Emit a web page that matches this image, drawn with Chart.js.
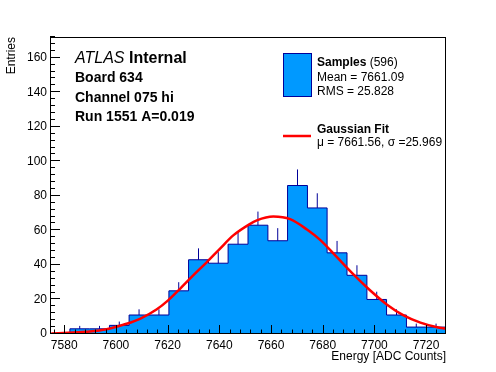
<!DOCTYPE html>
<html>
<head>
<meta charset="utf-8">
<script src="https://cdn.jsdelivr.net/npm/chart.js@4.4.1/dist/chart.umd.min.js"></script>
<style>
  html, body { margin: 0; padding: 0; background: #fff; }
</style>
</head>
<body>
<canvas id="chart" width="496" height="372"></canvas>
<script>
// Histogram data
const binEdges = [7574.5, 7582.2, 7589.8, 7597.5, 7605.1, 7612.8, 7620.5, 7628.1, 7635.8, 7643.4,
                  7651.1, 7658.8, 7666.4, 7674.1, 7681.7, 7689.4, 7697.1, 7704.7, 7712.4, 7720.0, 7727.7];
const counts = [0, 3, 3, 5, 11, 11, 25, 43, 41, 52, 63, 54, 86, 73, 47, 34, 20, 11, 4, 4];
const errors = [0, 1.7, 1.7, 2.2, 3.3, 3.3, 5, 6.6, 6.4, 7.2, 7.9, 7.3, 9.3, 8.5, 6.9, 5.8, 4.5, 3.3, 2, 2];

// Gaussian fit curve
const fitX = [7575.0, 7583.4, 7589.9, 7596.4, 7604.1, 7609.3, 7615.7, 7620.2, 7624.7, 7629.9, 7635.1,
              7640.3, 7645.4, 7651.6, 7654.5, 7660.9, 7667.4, 7673.9, 7679.0, 7685.5, 7691.9, 7698.4,
              7704.9, 7711.3, 7717.8, 7724.3, 7727.7];
const fitY = [0.3, 0.9, 1.4, 2.7, 5.9, 8.8, 14.2, 19.5, 26.0, 33.9, 41.5,
              49.5, 57.1, 63.5, 65.8, 68.0, 66.5, 60.5, 54.5, 44.5, 34.5, 25.2,
              17.0, 10.8, 6.6, 3.9, 3.0];

const xTicks = [7580, 7600, 7620, 7640, 7660, 7680, 7700, 7720];
const yTicks = [0, 20, 40, 60, 80, 100, 120, 140, 160];

const FONT = "'Liberation Sans', Arial, Helvetica, sans-serif";
Chart.defaults.font.family = FONT;
Chart.defaults.color = '#000';

const BLUE = '#0099ff';
const NAVY = '#000099';

// stepped outline: one point per bin edge
const histPoints = binEdges.map((e, i) => ({ x: e, y: counts[Math.min(i, counts.length - 1)] }));

// error bars: upper half only (lower half sits inside the fill)
const errPoints = [];
counts.forEach((c, i) => {
    if (!c) return;
    const xc = (binEdges[i] + binEdges[i + 1]) / 2;
    errPoints.push({ x: xc, y: c }, { x: xc, y: c + errors[i] }, { x: xc, y: null });
});

const fitPoints = fitX.map((x, i) => ({ x: x, y: fitY[i] }));

// frame, ROOT style ticks and the text boxes
const rootStyle = {
    id: 'rootStyle',
    afterDraw(chart) {
        const { ctx, chartArea: a, scales: { x, y } } = chart;
        ctx.save();
        ctx.strokeStyle = '#000';
        ctx.lineWidth = 1;
        ctx.strokeRect(a.left + 0.5, a.top + 0.5, a.right - a.left - 1, a.bottom - a.top - 1);

        ctx.beginPath();
        for (let v = 0; v <= y.max; v += 4) {
            const py = Math.round(y.getPixelForValue(v)) - 0.5;
            const len = v % 20 === 0 ? 10 : 5;
            ctx.moveTo(a.left, py);
            ctx.lineTo(a.left + len, py);
        }
        for (let v = 7576; v <= x.max; v += 4) {
            const px = Math.round(x.getPixelForValue(v)) + 0.5;
            const len = (v - 7580) % 20 === 0 ? 9 : 4.5;
            ctx.moveTo(px, a.bottom);
            ctx.lineTo(px, a.bottom - len);
        }
        ctx.stroke();

        // title block
        ctx.fillStyle = '#000';
        ctx.textBaseline = 'alphabetic';
        ctx.textAlign = 'left';
        ctx.font = 'italic 16px ' + FONT;
        ctx.fillText('ATLAS', 75, 63);
        const w = ctx.measureText('ATLAS ').width;
        ctx.font = 'bold 16px ' + FONT;
        ctx.fillText('Internal', 75 + w, 63);
        ctx.font = 'bold 14px ' + FONT;
        ctx.fillText('Board 634', 75, 82);
        ctx.fillText('Channel 075 hi', 75, 101.5);
        ctx.fillText('Run 1551 A=0.019', 75, 121);

        // legend
        ctx.fillStyle = BLUE;
        ctx.fillRect(283, 53, 28, 43);
        ctx.strokeStyle = NAVY;
        ctx.strokeRect(283.5, 53.5, 28, 43);

        ctx.fillStyle = '#000';
        ctx.font = 'bold 12px ' + FONT;
        ctx.fillText('Samples', 317, 66);
        const ws = ctx.measureText('Samples ').width;
        ctx.font = '12px ' + FONT;
        ctx.fillText('(596)', 317 + ws, 66);
        ctx.fillText('Mean = 7661.09', 317, 81);
        ctx.fillText('RMS = 25.828', 317, 94.5);

        ctx.strokeStyle = '#ff0000';
        ctx.lineWidth = 2.5;
        ctx.beginPath();
        ctx.moveTo(283, 136);
        ctx.lineTo(311, 136);
        ctx.stroke();

        ctx.font = 'bold 12px ' + FONT;
        ctx.fillText('Gaussian Fit', 317, 133);
        ctx.font = '12px ' + FONT;
        ctx.fillText('\u03bc = 7661.56, \u03c3 =25.969', 317, 146);
        ctx.restore();
    }
};

new Chart(document.getElementById('chart'), {
    type: 'line',
    data: {
        datasets: [
            {
                label: 'Gaussian Fit',
                data: fitPoints,
                borderColor: '#ff0000',
                borderWidth: 2.5,
                pointRadius: 0,
                cubicInterpolationMode: 'monotone',
                fill: false,
                order: 0
            },
            {
                label: 'errors',
                data: errPoints,
                borderColor: NAVY,
                borderWidth: 1,
                pointRadius: 0,
                spanGaps: false,
                fill: false,
                order: 1
            },
            {
                label: 'Samples',
                data: histPoints,
                borderColor: NAVY,
                borderWidth: 1,
                backgroundColor: BLUE,
                pointRadius: 0,
                stepped: true,
                fill: 'origin',
                order: 2
            }
        ]
    },
    options: {
        responsive: false,
        animation: false,
        events: [],
        layout: { padding: { top: 37, right: 50, left: 0, bottom: 0 } },
        plugins: {
            legend: { display: false },
            tooltip: { enabled: false }
        },
        scales: {
            x: {
                type: 'linear',
                min: binEdges[0],
                max: binEdges[binEdges.length - 1],
                grid: { display: false, drawTicks: false },
                border: { display: false },
                afterBuildTicks: s => { s.ticks = xTicks.map(v => ({ value: v })); },
                afterFit: s => { s.height = 38; },
                ticks: { font: { size: 12 }, padding: 4, maxRotation: 0, autoSkip: false,
                         callback: v => String(v) },
                title: { display: true, text: 'Energy [ADC Counts]', align: 'end',
                         font: { size: 12 }, padding: { top: 0, bottom: 8 } }
            },
            y: {
                type: 'linear',
                min: 0,
                max: 172,
                grid: { display: false, drawTicks: false },
                border: { display: false },
                afterBuildTicks: s => { s.ticks = yTicks.map(v => ({ value: v })); },
                afterFit: s => { s.width = 50; },
                ticks: { font: { size: 12 }, padding: 3, autoSkip: false },
                title: { display: true, text: 'Entries', align: 'end',
                         font: { size: 12 }, padding: { top: 4, bottom: 4 } }
            }
        }
    },
    plugins: [rootStyle]
});
</script>
</body>
</html>
